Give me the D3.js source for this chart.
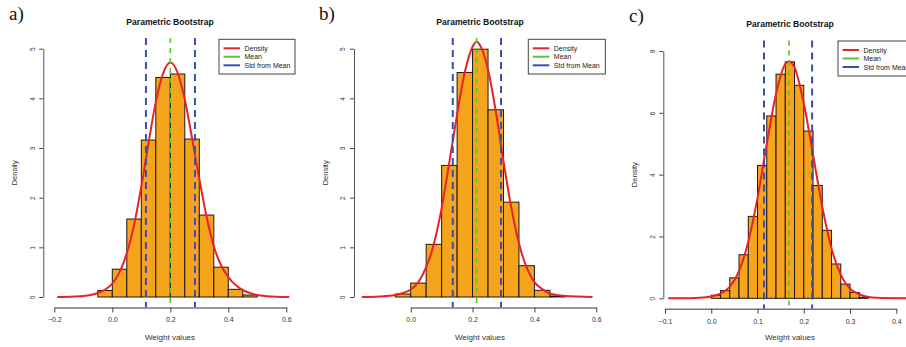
<!DOCTYPE html>
<html><head><meta charset="utf-8">
<script src="https://cdn.jsdelivr.net/npm/d3@7"></script>
<style>
html,body{margin:0;padding:0;background:#fff;}
svg{display:block;font-family:"Liberation Sans",Arial,sans-serif;}
</style></head>
<body>
<svg id="chart" width="906" height="347"></svg>
<script>
// ---------- data ----------
const panelLabels = ["a)", "b)", "c)"];
const titleText = "Parametric Bootstrap";
const xLabel = "Weight values";
const yLabel = "Density";
const legendLabels = ["Density", "Mean", "Std from Mean"];

// panel a
const edgesA = [-0.05,0,0.05,0.1,0.15,0.2,0.25,0.3,0.35,0.4,0.45,0.5];
const densA  = [0.13,0.56,1.57,3.16,4.42,4.49,3.18,1.65,0.60,0.155,0.04];
const curveXA = [-0.19,-0.15,-0.1,-0.075,-0.05,-0.025,0,0.025,0.05,0.075,0.1,0.125,0.15,0.175,0.2,0.225,0.25,0.275,0.3,0.325,0.35,0.375,0.4,0.425,0.45,0.475,0.5,0.55,0.61];
const curveYA = [0.0,0.005,0.02,0.04,0.08,0.15,0.27,0.5,0.88,1.45,2.22,3.1,3.93,4.5,4.72,4.52,3.98,3.2,2.38,1.62,1.02,0.64,0.4,0.24,0.14,0.08,0.04,0.01,0.0];
const meanA = 0.2;
const sdLinesA = [0.116, 0.285];
const xTicksA = [-0.2,0.0,0.2,0.4,0.6];
const yTicksA = [0,1,2,3,4,5];

// panel b
const edgesB = [-0.05,0,0.05,0.1,0.15,0.2,0.25,0.3,0.35,0.4,0.45,0.5];
const densB  = [0.06,0.28,1.06,2.65,4.52,4.99,3.77,1.91,0.63,0.135,0.02];
const curveXB = [-0.158,-0.1,-0.05,-0.025,0,0.025,0.05,0.075,0.1,0.125,0.15,0.175,0.2,0.213,0.225,0.25,0.275,0.3,0.325,0.35,0.375,0.4,0.425,0.45,0.5,0.588];
const curveYB = [0.0,0.01,0.04,0.08,0.15,0.3,0.6,1.07,1.79,2.72,3.68,4.53,5.04,5.14,5.06,4.58,3.74,2.73,1.81,1.08,0.59,0.3,0.16,0.07,0.02,0.0];
const meanB = 0.213;
const sdLinesB = [0.136, 0.292];
const xTicksB = [0.0,0.2,0.4,0.6];
const yTicksB = [0,1,2,3,4,5];

// panel c
const edgesC = [0,0.02,0.04,0.06,0.08,0.10,0.12,0.14,0.16,0.18,0.20,0.22,0.24,0.26,0.28,0.30,0.32,0.34];
const densC  = [0.1,0.25,0.66,1.41,2.65,4.30,5.90,7.25,7.65,6.89,5.41,3.65,2.20,1.11,0.46,0.19,0.03];
const curveXC = [-0.093,-0.05,-0.02,0,0.02,0.04,0.06,0.08,0.1,0.12,0.14,0.16,0.168,0.18,0.2,0.22,0.24,0.26,0.28,0.3,0.32,0.34,0.36,0.4,0.43];
const curveYC = [0.0,0.005,0.025,0.06,0.15,0.37,0.88,1.83,3.25,5.0,6.61,7.58,7.67,7.47,6.31,4.65,2.96,1.61,0.76,0.31,0.13,0.04,0.015,0.002,0.0];
const meanC = 0.168;
const sdLinesC = [0.114, 0.218];
const xTicksC = [-0.1,0.0,0.1,0.2,0.3,0.4];
const yTicksC = [0,2,4,6,8];

// ---------- styles ----------
const COL = {bar:"#F6A41C", barStroke:"#1a1a1a", curve:"#E8222A", mean:"#5EC232", sd:"#3A4FA8", axis:"#555", text:"#333"};

const svg = d3.select("#chart");

const panels = [
  {label:panelLabels[0], edges:edgesA, dens:densA, cx:curveXA, cy:curveYA, mean:meanA, sd:sdLinesA, xt:xTicksA, yt:yTicksA,
   xDom:[-0.2,0.6], xRng:[54.3,286.3], yDom:[0,5], yRng:[297,48.7], yAxisX:43.3, xAxisY:307.5, top:38,
   labelPos:[9,20], titleX:170, titleY:25, legend:{x:219,y:39.3,w:76,h:34.7, rows:[48.3,56.7,65.3]}},
  {label:panelLabels[1], edges:edgesB, dens:densB, cx:curveXB, cy:curveYB, mean:meanB, sd:sdLinesB, xt:xTicksB, yt:yTicksB,
   xDom:[0,0.6], xRng:[410.7,596.3], yDom:[0,5], yRng:[297,48.7], yAxisX:354, xAxisY:307.5, top:38,
   labelPos:[319,20], titleX:480, titleY:25, legend:{x:528.3,y:39.3,w:77,h:34.7, rows:[48.3,56.7,65.3]}},
  {label:panelLabels[2], edges:edgesC, dens:densC, cx:curveXC, cy:curveYC, mean:meanC, sd:sdLinesC, xt:xTicksC, yt:yTicksC,
   xDom:[-0.1,0.4], xRng:[665,896.3], yDom:[0,8], yRng:[298.3,51], yAxisX:663.3, xAxisY:308.7, top:40.5,
   labelPos:[629,22], titleX:790, titleY:27, legend:{x:838,y:41,w:80,h:35, rows:[50,58.5,67]}}
];

panels.forEach(p => {
  const g = svg.append("g");
  const x = d3.scaleLinear().domain(p.xDom).range(p.xRng);
  const y = d3.scaleLinear().domain(p.yDom).range(p.yRng);
  const bottom = p.xAxisY;

  // panel letter
  g.append("text").attr("x", p.labelPos[0]).attr("y", p.labelPos[1])
    .attr("font-family", "'Liberation Serif','Times New Roman',serif")
    .attr("font-size", 19).attr("fill", "#111").text(p.label);

  // title
  g.append("text").attr("x", p.titleX).attr("y", p.titleY).attr("text-anchor","middle")
    .attr("font-size", 8.6).attr("font-weight","bold").attr("fill","#111").text(titleText);

  // histogram bars
  const bins = p.dens.map((d,i) => ({x0:p.edges[i], x1:p.edges[i+1], d}));
  g.append("g").selectAll("rect").data(bins).join("rect")
    .attr("x", b => x(b.x0)).attr("width", b => x(b.x1)-x(b.x0))
    .attr("y", b => y(b.d)).attr("height", b => y(0)-y(b.d))
    .attr("fill", COL.bar).attr("stroke", COL.barStroke).attr("stroke-width", 1);

  // density curve
  const pts = p.cx.map((v,i)=>[v,p.cy[i]]);
  g.append("path").datum(pts)
    .attr("d", d3.line().x(d=>x(d[0])).y(d=>y(d[1])).curve(d3.curveMonotoneX))
    .attr("fill","none").attr("stroke", COL.curve).attr("stroke-width", 2);

  // mean line
  g.append("line").attr("x1", x(p.mean)).attr("x2", x(p.mean)).attr("y1", p.top).attr("y2", bottom)
    .attr("stroke", COL.mean).attr("stroke-width", 1.6).attr("stroke-dasharray","5,5");
  // sd lines
  g.selectAll("line.sd").data(p.sd).join("line").attr("class","sd")
    .attr("x1", d=>x(d)).attr("x2", d=>x(d)).attr("y1", p.top).attr("y2", bottom)
    .attr("stroke", COL.sd).attr("stroke-width", 2).attr("stroke-dasharray","7,5");

  // x axis
  const xa = g.append("g").attr("transform", `translate(0,${bottom})`)
    .call(d3.axisBottom(x).tickValues(p.xt).tickFormat(d3.format(".1f")).tickSize(5).tickPadding(5).tickSizeOuter(0));
  xa.select(".domain").attr("stroke", "#777").attr("stroke-width", 1.6);
  xa.selectAll(".tick line").attr("stroke", "#444");
  xa.selectAll(".tick text").attr("font-size", 7).attr("fill", COL.text).attr("font-family","'Liberation Sans',Arial,sans-serif");

  // y axis
  const ya = g.append("g").attr("transform", `translate(${p.yAxisX},0)`)
    .call(d3.axisLeft(y).tickValues(p.yt).tickFormat(d3.format("d")).tickSize(4).tickSizeOuter(0));
  ya.select(".domain").attr("stroke", "#555").attr("stroke-width", 1);
  ya.selectAll(".tick line").attr("stroke", "#444");
  ya.selectAll(".tick text").attr("font-size", 6.5).attr("fill", COL.text)
    .attr("font-family","'Liberation Sans',Arial,sans-serif")
    .attr("text-anchor","middle").attr("dy", null)
    .attr("transform", "translate(-11,0) rotate(-90)").attr("x", 0).attr("y", 2.3);

  // axis titles
  g.append("text").attr("x", p.titleX).attr("y", 340).attr("text-anchor","middle")
    .attr("font-size", 8).attr("fill", COL.text).text(xLabel);
  g.append("text").attr("transform", `translate(${p.yAxisX-26},${(y(p.yDom[0])+y(p.yDom[1]))/2}) rotate(-90)`)
    .attr("text-anchor","middle").attr("font-size", 7.5).attr("fill", COL.text).text(yLabel);

  // legend
  const L = p.legend;
  const lg = g.append("g");
  lg.append("rect").attr("x", L.x).attr("y", L.y).attr("width", L.w).attr("height", L.h)
    .attr("fill","#fff").attr("stroke","#444").attr("stroke-width",1);
  const cols = [COL.curve, COL.mean, COL.sd];
  legendLabels.forEach((t,i) => {
    lg.append("line").attr("x1", L.x+4.5).attr("x2", L.x+21).attr("y1", L.rows[i]).attr("y2", L.rows[i])
      .attr("stroke", cols[i]).attr("stroke-width", 2);
    lg.append("text").attr("x", L.x+25.5).attr("y", L.rows[i]+2.5).attr("font-size", 7).attr("fill","#222").text(t);
  });
});
</script>
</body></html>
